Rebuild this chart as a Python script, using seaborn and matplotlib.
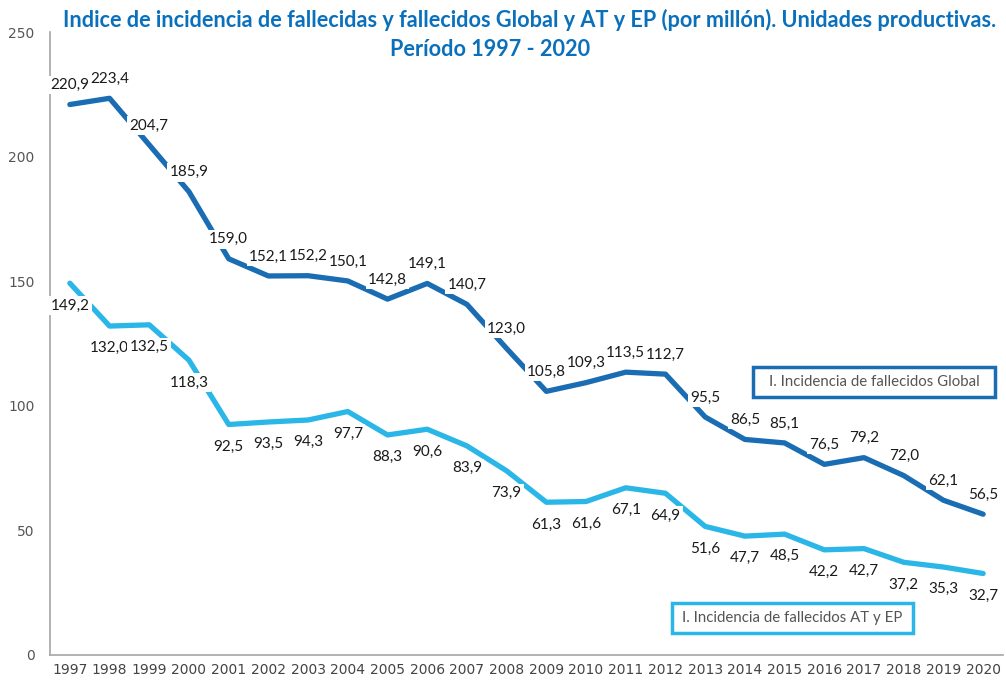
import matplotlib
matplotlib.use('Agg')
import matplotlib.pyplot as plt
import seaborn as sns
import pandas as pd

# Data
years = list(range(1997, 2021))
global_vals = [220.9, 223.4, 204.7, 185.9, 159.0, 152.1, 152.2, 150.1, 142.8, 149.1, 140.7, 123.0,
               105.8, 109.3, 113.5, 112.7, 95.5, 86.5, 85.1, 76.5, 79.2, 72.0, 62.1, 56.5]
at_ep_vals = [149.2, 132.0, 132.5, 118.3, 92.5, 93.5, 94.3, 97.7, 88.3, 90.6, 83.9, 73.9,
              61.3, 61.6, 67.1, 64.9, 51.6, 47.7, 48.5, 42.2, 42.7, 37.2, 35.3, 32.7]
series_names = ['I. Incidencia de fallecidos Global', 'I. Incidencia de fallecidos AT y EP']
yticks = [0, 50, 100, 150, 200, 250]

dark_blue = '#1b6db3'
light_blue = '#2bb6e8'
title_blue = '#0b70bb'
axis_gray = '#a6a6a6'

df = pd.DataFrame({'pos': list(range(len(years))) * 2,
                   'year': years * 2,
                   'value': global_vals + at_ep_vals,
                   'serie': [series_names[0]] * len(years) + [series_names[1]] * len(years)})

sns.set_style('white')
plt.rcParams['font.family'] = ['DejaVu Sans']

fig = plt.figure(figsize=(10.06, 6.83), dpi=100)
ax = fig.add_axes([50 / 1006, 28 / 683, 953 / 1006, 623 / 683])

sns.lineplot(data=df, x='pos', y='value', hue='serie',
             palette=[dark_blue, light_blue], linewidth=3.8,
             legend=False, ax=ax, zorder=2)

# data labels with white boxes over the line
for i, v in enumerate(global_vals):
    ax.annotate(f'{v:.1f}'.replace('.', ','), (i, v), xytext=(0, 14),
                textcoords='offset points', ha='center', va='center',
                fontsize=11, family='Lato', color='#1a1a1a', zorder=3,
                bbox=dict(boxstyle='square,pad=0.15', fc='white', ec='none'))
for i, v in enumerate(at_ep_vals):
    ax.annotate(f'{v:.1f}'.replace('.', ','), (i, v), xytext=(0, -16),
                textcoords='offset points', ha='center', va='center',
                fontsize=11, family='Lato', color='#1a1a1a', zorder=3,
                bbox=dict(boxstyle='square,pad=0.15', fc='white', ec='none'))

ax.set_xlim(-0.5, len(years) - 0.5)
ax.set_ylim(0, 250)
ax.set_yticks(yticks)
ax.set_yticklabels([str(t) for t in yticks], fontsize=10, color='#555555')

# tick marks between categories, labels in the middle
ax.set_xticks([i - 0.5 for i in range(len(years) + 1)])
ax.set_xticklabels([])
ax.set_xticks(range(len(years)), minor=True)
ax.set_xticklabels([str(y) for y in years], minor=True, fontsize=10, color='#444444')
ax.tick_params(axis='x', which='major', length=5, color=axis_gray, direction='out')
ax.tick_params(axis='x', which='minor', length=0, pad=6)
ax.tick_params(axis='y', length=5, color=axis_gray, direction='out', pad=6)
ax.set_xlabel('')
ax.set_ylabel('')

sns.despine(ax=ax)
for s in ['left', 'bottom']:
    ax.spines[s].set_color(axis_gray)
    ax.spines[s].set_linewidth(1.2)

# title
fig.text(530 / 1006, 1 - 20 / 683,
         'Indice de incidencia de fallecidas y fallecidos Global y AT y EP (por millón). Unidades productivas.',
         ha='center', va='center', fontsize=15.6, fontweight='bold', family='Lato', color=title_blue)
fig.text(490 / 1006, 1 - 50 / 683, 'Período 1997 - 2020',
         ha='center', va='center', fontsize=15.6, fontweight='bold', family='Lato', color=title_blue)

# boxed series labels
boxes = [((753, 367, 995, 397), dark_blue, series_names[0]),
         ((672, 603, 913, 633), light_blue, series_names[1])]
for (x0, y0, x1, y1), col, name in boxes:
    fig.add_artist(plt.Rectangle((x0 / 1006, 1 - y1 / 683), (x1 - x0) / 1006, (y1 - y0) / 683,
                                 transform=fig.transFigure, fill=True, fc='white',
                                 ec=col, lw=2.5))
    fig.text((x0 + x1) / 2 / 1006, 1 - (y0 + y1) / 2 / 683, name, ha='center', va='center',
             fontsize=10.8, family='Lato', color='#555555')

fig.savefig('out.png', dpi=100)
